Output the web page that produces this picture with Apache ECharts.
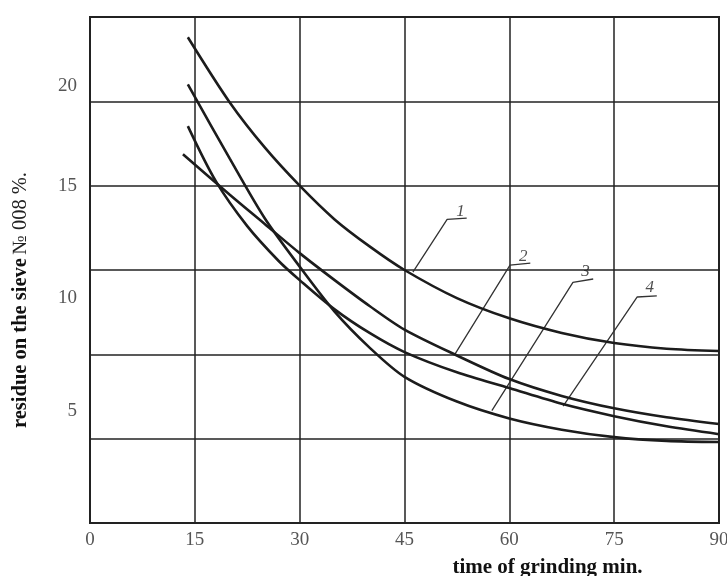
<!DOCTYPE html>
<html><head><meta charset="utf-8">
<script src="https://cdn.jsdelivr.net/npm/echarts@6/dist/echarts.min.js"></script>
<style>html,body{margin:0;padding:0;background:#fff}#c{width:727px;height:576px}</style>
</head><body><div id="c"></div>
<script>
// x axis: time of grinding, min
const xTicks = [0, 15, 30, 45, 60, 75, 90];
// y axis label values
const yTickLabels = [5, 10, 15, 20];

// curve 1
const curve1X = [14, 20, 25, 30, 35, 40, 45, 52.5, 60, 67.5, 75, 82.5, 90];
const curve1Y = [21.6, 18.7, 16.7, 15.0, 13.5, 12.3, 11.25, 10.0, 9.1, 8.45, 8.0, 7.75, 7.65];
// curve 2
const curve2X = [13.3, 20, 25, 30, 35, 40, 45, 52.5, 60, 67.5, 75, 82.5, 90];
const curve2Y = [16.4, 14.6, 13.3, 12.0, 10.8, 9.65, 8.6, 7.45, 6.4, 5.65, 5.1, 4.7, 4.4];
// curve 3
const curve3X = [14, 20, 25, 30, 35, 40, 45, 52.5, 60, 67.5, 75, 82.5, 90];
const curve3Y = [19.5, 16.2, 13.55, 11.4, 9.4, 7.8, 6.5, 5.4, 4.65, 4.15, 3.82, 3.65, 3.6];
// curve 4
const curve4X = [14, 18, 22.5, 27, 30, 35, 40, 45, 52.5, 60, 67.5, 75, 82.5, 90];
const curve4Y = [17.65, 15.2, 13.2, 11.65, 10.8, 9.5, 8.45, 7.6, 6.7, 6.0, 5.3, 4.75, 4.3, 3.95];

// leader lines (data coordinates) and curve numbers
const leader1 = [[46.2, 11.16], [51.1, 13.5], [53.9, 13.56]];
const leader2 = [[52.2, 7.5], [60.1, 11.47], [63.0, 11.56]];
const leader3 = [[57.5, 5.0], [69.1, 10.7], [72.0, 10.85]];
const leader4 = [[67.7, 5.2], [78.3, 10.05], [81.1, 10.1]];
const curveNames = ['1', '2', '3', '4'];
const curveNameX = [53.0, 62.0, 70.9, 80.1];
const curveNameY = [13.85, 11.85, 11.2, 10.45];

const serif = '"Liberation Serif", "DejaVu Serif", serif';
const zip = (xs, ys) => xs.map((x, i) => [x, ys[i]]);

const curveStyle = { color: '#1c1c1c', width: 2.6 };
const curve = d => ({ type: 'line', data: d, smooth: 0.3, showSymbol: false, lineStyle: curveStyle, z: 4, silent: true });
const leader = d => ({ type: 'line', data: d, smooth: false, showSymbol: false, lineStyle: { color: '#333', width: 1.3 }, z: 3, silent: true });

const chart = echarts.init(document.getElementById('c'), null, { renderer: 'canvas' });
chart.setOption({
  animation: false,
  backgroundColor: '#fff',
  grid: { left: 90, right: 8, top: 17, bottom: 53, show: true, borderColor: '#222', borderWidth: 2, outerBoundsMode: 'none', containLabel: false },
  xAxis: {
    type: 'value', min: xTicks[0], max: xTicks[xTicks.length - 1], interval: 15,
    axisLine: { show: true, lineStyle: { color: '#222', width: 2 } },
    axisTick: { show: false },
    splitLine: { show: true, lineStyle: { color: '#222', width: 1.5 } },
    axisLabel: { fontFamily: serif, fontSize: 19, color: '#555', margin: 8 },
    name: 'time of grinding min.', nameLocation: 'middle', nameGap: 34,
    nameTextStyle: { fontFamily: serif, fontWeight: 'bold', fontSize: 21, color: '#111', padding: [0, 0, 0, 286] }
  },
  yAxis: [{
    type: 'value', min: 0, max: 22.5, interval: 3.75, position: 'left',
    axisLine: { show: true, lineStyle: { color: '#222', width: 2 } },
    axisTick: { show: false },
    axisLabel: { show: false },
    splitLine: { show: true, lineStyle: { color: '#222', width: 1.5 } },
    name: '{b|residue on the sieve} {n|№ 008 %.}', nameLocation: 'middle', nameGap: 59,
    nameTextStyle: {
      padding: [0, 60, 0, 0],
      rich: {
        b: { fontFamily: serif, fontWeight: 'bold', fontSize: 20.5, color: '#111' },
        n: { fontFamily: serif, fontSize: 20.5, color: '#222' }
      }
    }
  }, {
    type: 'value', min: 0, max: 22.5, interval: 5, position: 'left',
    axisLine: { show: false }, axisTick: { show: false }, splitLine: { show: false },
    axisLabel: {
      fontFamily: serif, fontSize: 19, color: '#555', margin: 13,
      formatter: v => yTickLabels.indexOf(v) < 0 ? '' : (v === 20 ? '{d|20}' : String(v)),
      rich: { d: { fontFamily: serif, fontSize: 19, color: '#555', padding: [26, 0, 0, 0] } }
    }
  }],
  series: [
    curve(zip(curve1X, curve1Y)),
    curve(zip(curve2X, curve2Y)),
    curve(zip(curve3X, curve3Y)),
    curve(zip(curve4X, curve4Y)),
    leader(leader1), leader(leader2), leader(leader3), leader(leader4),
    {
      type: 'scatter', symbol: 'circle', symbolSize: 2, itemStyle: { color: 'rgba(0,0,0,0)' }, silent: true, z: 6,
      data: curveNames.map((n, i) => [curveNameX[i], curveNameY[i], n]),
      label: { show: true, position: 'inside', formatter: p => p.value[2],
        fontFamily: serif, fontStyle: 'italic', fontSize: 17, color: '#222' },
      labelLayout: { hideOverlap: false }
    }
  ]
});
</script></body></html>
